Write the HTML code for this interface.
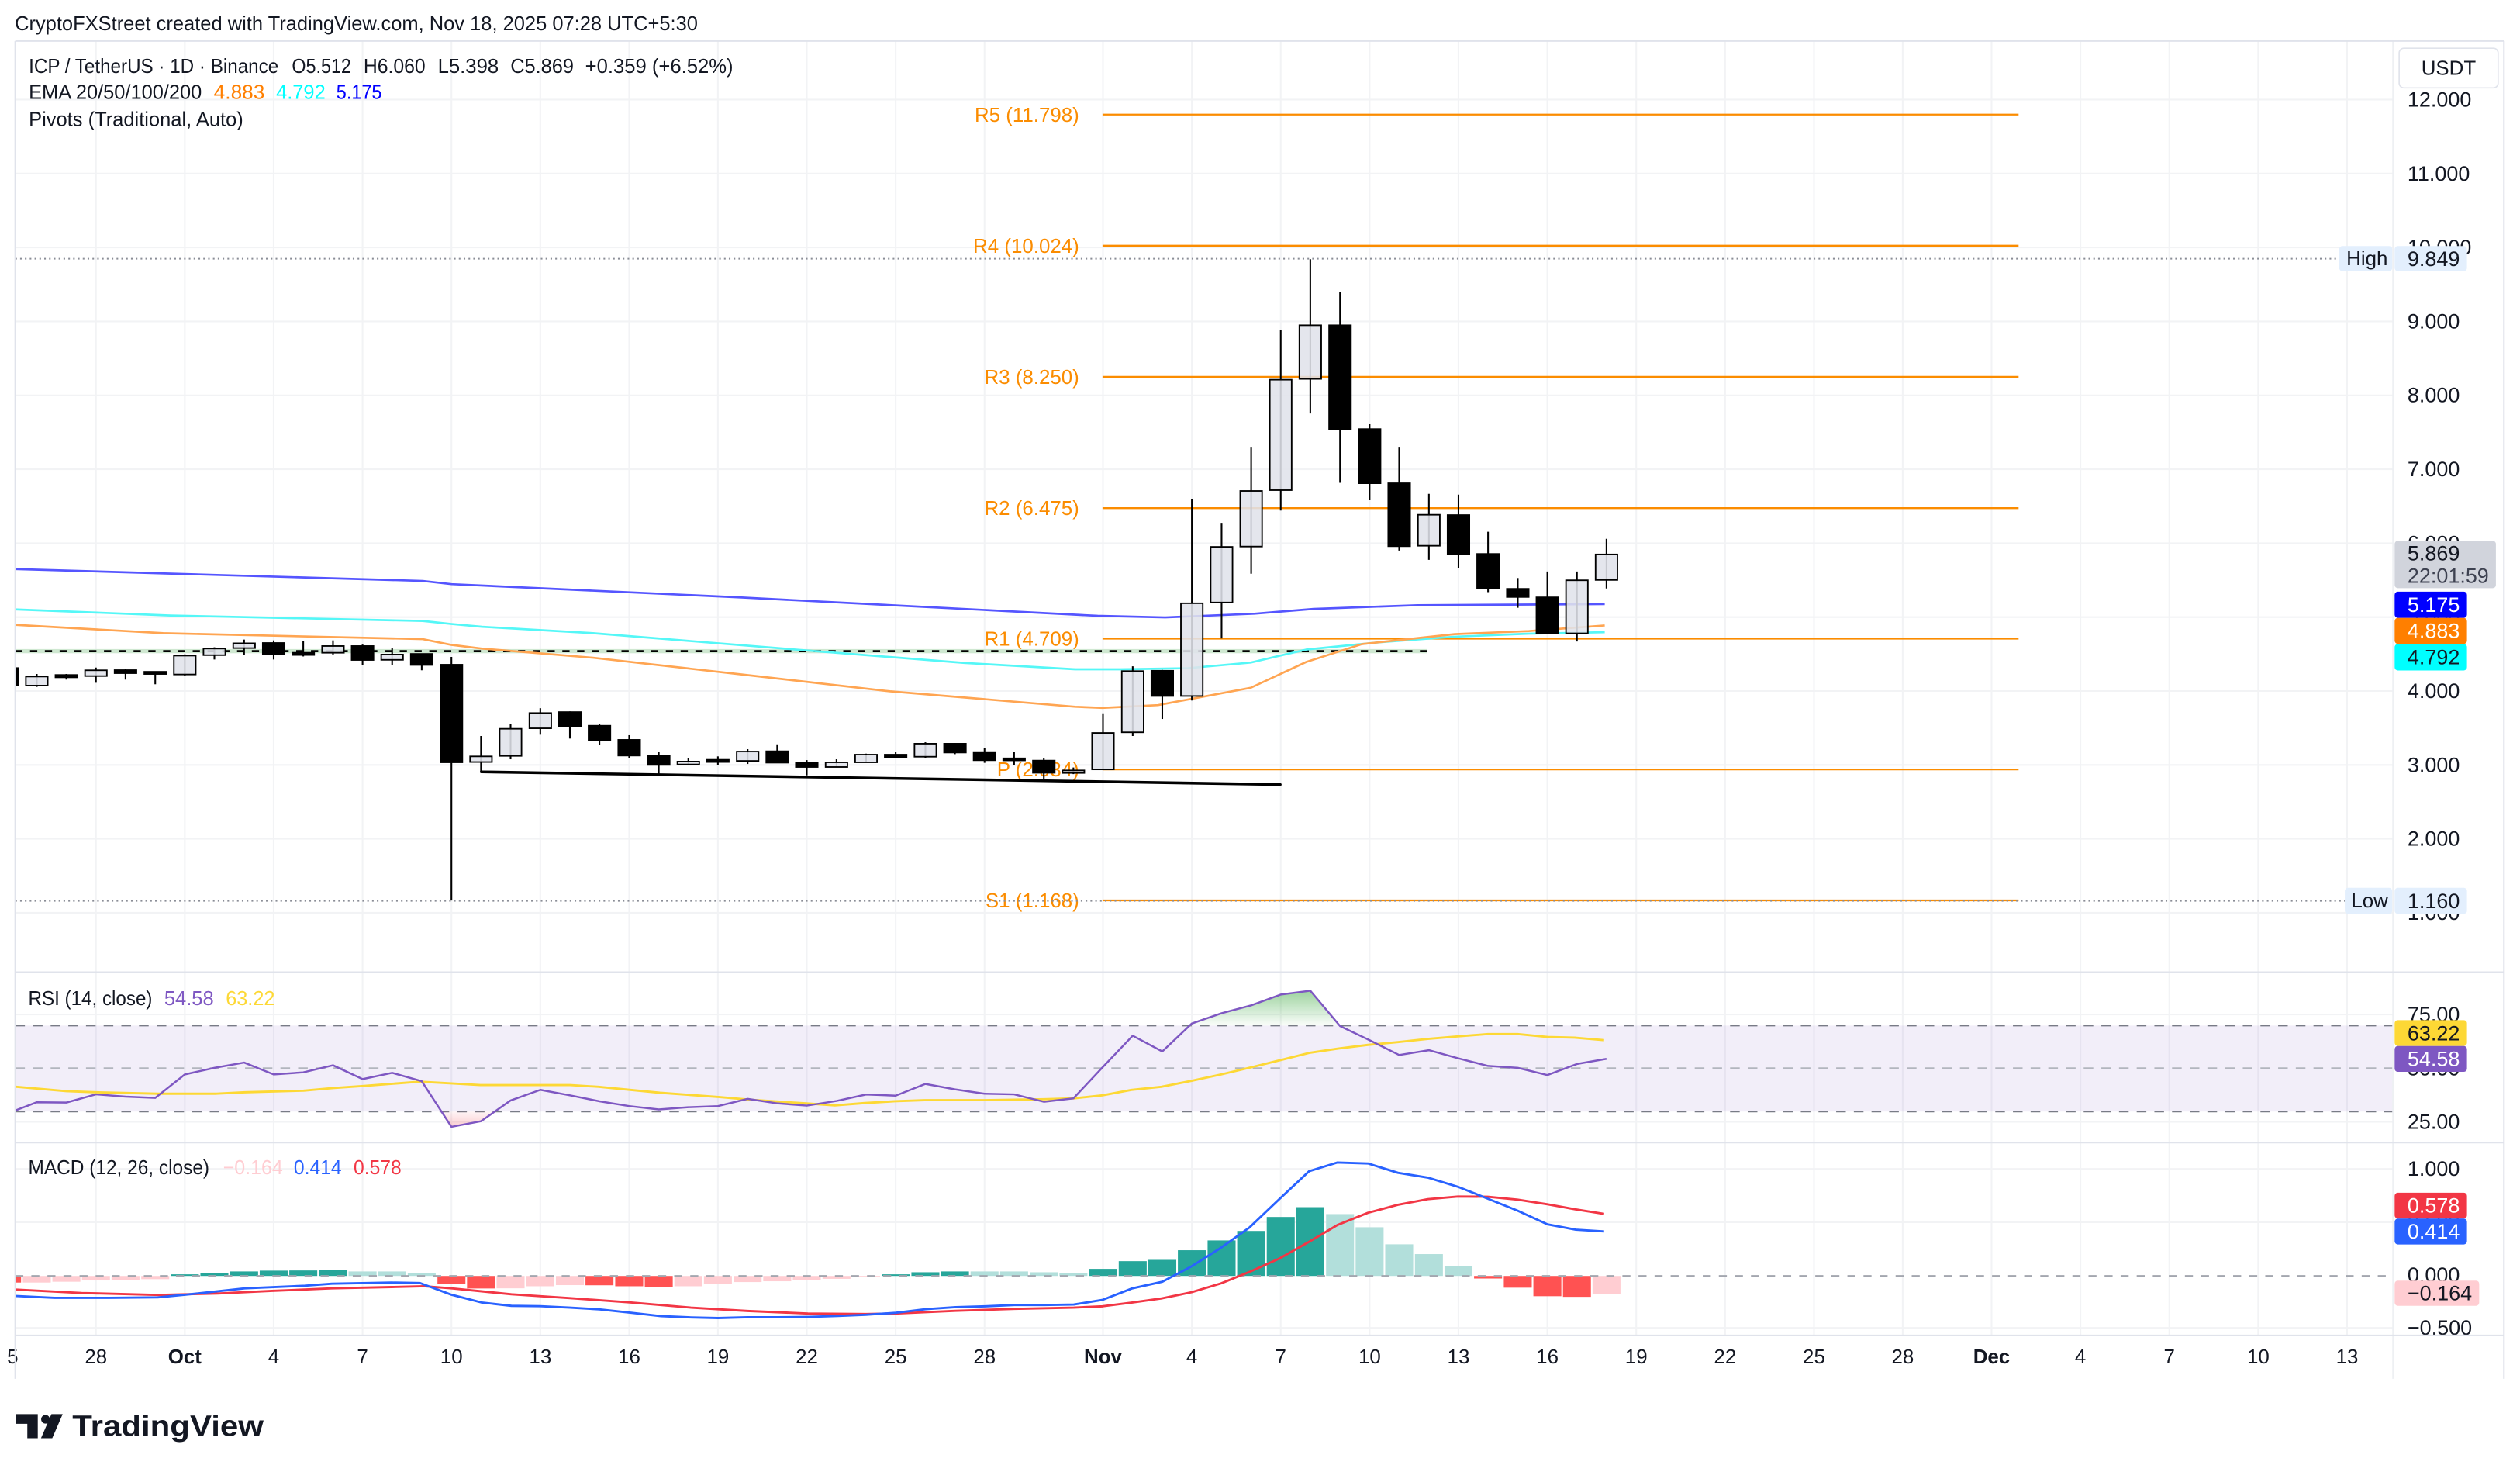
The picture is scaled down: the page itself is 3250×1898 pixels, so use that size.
<!DOCTYPE html>
<html><head><meta charset="utf-8"><style>
html,body{margin:0;padding:0;background:#fff;}
svg{display:block;}
text{font-family:"Liberation Sans",Arial,sans-serif;}
</style></head><body>
<svg xmlns="http://www.w3.org/2000/svg" width="3250" height="1898" viewBox="0 0 1568 916" preserveAspectRatio="none">
<defs>
<clipPath id="cp"><rect x="9.5" y="25.5" width="1479.5" height="579.5"/></clipPath>
<clipPath id="cr"><rect x="9.5" y="605" width="1479.5" height="106"/></clipPath>
<clipPath id="cm"><rect x="9.5" y="711" width="1479.5" height="120"/></clipPath>
<clipPath id="cma"><rect x="1489" y="711" width="79" height="120"/></clipPath>
<clipPath id="cx"><rect x="4" y="831" width="1485" height="27"/></clipPath>
<linearGradient id="gg" x1="0" y1="0" x2="0" y2="1"><stop offset="0" stop-color="#4caf50" stop-opacity="0.55"/><stop offset="1" stop-color="#4caf50" stop-opacity="0.03"/></linearGradient>
<linearGradient id="rg" x1="0" y1="0" x2="0" y2="1"><stop offset="0" stop-color="#f23645" stop-opacity="0.05"/><stop offset="1" stop-color="#f23645" stop-opacity="0.25"/></linearGradient>
</defs>
<rect x="0" y="0" width="1568" height="916" fill="#fff"/>

<!-- header -->
<text x="9.2" y="15" font-size="12.5" fill="#131722" dominant-baseline="central" textLength="425" lengthAdjust="spacingAndGlyphs">CryptoFXStreet created with TradingView.com, Nov 18, 2025 07:28 UTC+5:30</text>

<!-- gridlines -->
<g stroke="#f2f3f5" stroke-width="1">
<line x1="9.5" y1="62" x2="1489" y2="62"/><line x1="9.5" y1="108" x2="1489" y2="108"/><line x1="9.5" y1="154" x2="1489" y2="154"/><line x1="9.5" y1="200" x2="1489" y2="200"/><line x1="9.5" y1="246" x2="1489" y2="246"/><line x1="9.5" y1="292" x2="1489" y2="292"/><line x1="9.5" y1="338" x2="1489" y2="338"/><line x1="9.5" y1="384" x2="1489" y2="384"/><line x1="9.5" y1="430" x2="1489" y2="430"/><line x1="9.5" y1="476" x2="1489" y2="476"/><line x1="9.5" y1="522" x2="1489" y2="522"/><line x1="9.5" y1="568" x2="1489" y2="568"/>
<line x1="9.5" y1="631.3" x2="1489" y2="631.3"/><line x1="9.5" y1="698.1" x2="1489" y2="698.1"/>
<line x1="9.5" y1="727.4" x2="1489" y2="727.4"/><line x1="9.5" y1="760.6" x2="1489" y2="760.6"/><line x1="9.5" y1="826.3" x2="1489" y2="826.3"/>
<line x1="59.7" y1="25.5" x2="59.7" y2="831"/><line x1="115" y1="25.5" x2="115" y2="831"/><line x1="170.3" y1="25.5" x2="170.3" y2="831"/><line x1="225.6" y1="25.5" x2="225.6" y2="831"/><line x1="280.9" y1="25.5" x2="280.9" y2="831"/><line x1="336.2" y1="25.5" x2="336.2" y2="831"/><line x1="391.5" y1="25.5" x2="391.5" y2="831"/><line x1="446.7" y1="25.5" x2="446.7" y2="831"/><line x1="502" y1="25.5" x2="502" y2="831"/><line x1="557.3" y1="25.5" x2="557.3" y2="831"/><line x1="612.6" y1="25.5" x2="612.6" y2="831"/><line x1="686.3" y1="25.5" x2="686.3" y2="831"/><line x1="741.6" y1="25.5" x2="741.6" y2="831"/><line x1="796.9" y1="25.5" x2="796.9" y2="831"/><line x1="852.2" y1="25.5" x2="852.2" y2="831"/><line x1="907.5" y1="25.5" x2="907.5" y2="831"/><line x1="962.8" y1="25.5" x2="962.8" y2="831"/><line x1="1018.1" y1="25.5" x2="1018.1" y2="831"/><line x1="1073.4" y1="25.5" x2="1073.4" y2="831"/><line x1="1128.7" y1="25.5" x2="1128.7" y2="831"/><line x1="1183.9" y1="25.5" x2="1183.9" y2="831"/><line x1="1239.2" y1="25.5" x2="1239.2" y2="831"/><line x1="1294.5" y1="25.5" x2="1294.5" y2="831"/><line x1="1349.8" y1="25.5" x2="1349.8" y2="831"/><line x1="1405.1" y1="25.5" x2="1405.1" y2="831"/><line x1="1460.4" y1="25.5" x2="1460.4" y2="831"/>
</g>

<!-- ================= PRICE PANE ================= -->
<g clip-path="url(#cp)">
<g stroke="#fb8c00" stroke-width="1.1">
<line x1="686" y1="71.3" x2="1256" y2="71.3"/><line x1="686" y1="152.9" x2="1256" y2="152.9"/><line x1="686" y1="234.5" x2="1256" y2="234.5"/><line x1="686" y1="316.2" x2="1256" y2="316.2"/><line x1="686" y1="397.4" x2="1256" y2="397.4"/><line x1="686" y1="478.8" x2="1256" y2="478.8"/><line x1="686" y1="560.3" x2="1256" y2="560.3"/>
</g>
<g font-size="12.5" fill="#fb8c00" text-anchor="end" dominant-baseline="central">
<text x="671.5" y="71.8">R5 (11.798)</text><text x="671.5" y="153.4">R4 (10.024)</text><text x="671.5" y="235">R3 (8.250)</text><text x="671.5" y="316.7">R2 (6.475)</text><text x="671.5" y="397.9">R1 (4.709)</text><text x="671.5" y="479.3">P (2.934)</text><text x="671.5" y="560.8">S1 (1.168)</text>
</g>
<line x1="9.5" y1="161" x2="1455.5" y2="161" stroke="#8a8d96" stroke-width="1" stroke-dasharray="1 2"/>
<line x1="9.5" y1="560.6" x2="1459" y2="560.6" stroke="#8a8d96" stroke-width="1" stroke-dasharray="1 2"/>
<rect x="9.5" y="403.9" width="878.5" height="2.6" fill="#cfe8d1"/>
<line x1="9.5" y1="405.2" x2="888" y2="405.2" stroke="#000" stroke-width="1.3" stroke-dasharray="4.5 4.7"/>
<g fill="none" stroke-width="1.3" stroke-linejoin="round">
<polyline stroke="#5555ff" points="4,353.9 9.2,354.1 263,361.5 281,363.5 461.5,371.8 683,383.2 725,384.2 780.5,381.9 817.4,378.9 882,376.6 998.5,375.9"/>
<polyline stroke="#55f7f7" points="4,378.9 9.2,379.2 106,383 263,386.4 281,388.3 300,390 369,394 507.6,405.2 600,412.5 669,416.5 697.4,416.5 739,415.8 778.2,412.3 812.8,404.2 859,399.6 905.1,396.2 951.2,394.3 998.5,393.4"/>
<polyline stroke="#ffa552" points="4,388.6 9.2,388.8 101.5,394 263,397.7 281,401.3 300,403.6 369,409.3 461.5,419.7 553.8,430.2 669,439.8 686,440.5 720.5,438.8 778.2,428 812.8,411.9 847.4,400.8 905.1,394.6 951.2,392.7 998.5,389.2"/>
</g>
<g stroke="#000" stroke-width="1">
<line x1="4.4" y1="412" x2="4.4" y2="430"/><line x1="22.9" y1="419.4" x2="22.9" y2="427.4"/><line x1="41.3" y1="419.4" x2="41.3" y2="422.9"/><line x1="59.7" y1="415.4" x2="59.7" y2="424.9"/><line x1="78.1" y1="416.3" x2="78.1" y2="422.9"/><line x1="96.6" y1="418.6" x2="96.6" y2="425.8"/><line x1="115" y1="407.2" x2="115" y2="420.5"/><line x1="133.4" y1="402.8" x2="133.4" y2="410.4"/><line x1="151.9" y1="398" x2="151.9" y2="407.7"/><line x1="170.3" y1="398.5" x2="170.3" y2="410.4"/><line x1="188.7" y1="399.1" x2="188.7" y2="408.5"/><line x1="207.2" y1="398.5" x2="207.2" y2="407.3"/><line x1="225.6" y1="401.1" x2="225.6" y2="413.8"/><line x1="244" y1="403.3" x2="244" y2="413.8"/><line x1="262.4" y1="406.9" x2="262.4" y2="417.1"/><line x1="280.9" y1="408.8" x2="280.9" y2="560.4"/><line x1="299.3" y1="458" x2="299.3" y2="480.8"/><line x1="317.7" y1="450.3" x2="317.7" y2="472.5"/><line x1="336.2" y1="440.7" x2="336.2" y2="457.2"/><line x1="354.6" y1="442.7" x2="354.6" y2="459.6"/><line x1="373" y1="450.3" x2="373" y2="463.5"/><line x1="391.5" y1="457.5" x2="391.5" y2="471.7"/><line x1="409.9" y1="468" x2="409.9" y2="481.7"/><line x1="428.3" y1="472" x2="428.3" y2="476"/><line x1="446.7" y1="470.7" x2="446.7" y2="476.3"/><line x1="465.2" y1="466.2" x2="465.2" y2="475.4"/><line x1="483.6" y1="463.2" x2="483.6" y2="474.6"/><line x1="502" y1="473" x2="502" y2="482.5"/><line x1="520.5" y1="472.5" x2="520.5" y2="477.3"/><line x1="538.9" y1="469" x2="538.9" y2="474.4"/><line x1="557.3" y1="467.7" x2="557.3" y2="472"/><line x1="575.8" y1="461.9" x2="575.8" y2="472"/><line x1="594.2" y1="462.4" x2="594.2" y2="469.3"/><line x1="612.6" y1="465.7" x2="612.6" y2="474.7"/><line x1="631" y1="468" x2="631" y2="476"/><line x1="649.5" y1="472" x2="649.5" y2="484.9"/><line x1="667.9" y1="477.6" x2="667.9" y2="481.7"/><line x1="686.3" y1="443.9" x2="686.3" y2="479.2"/><line x1="704.8" y1="414.6" x2="704.8" y2="458"/><line x1="723.2" y1="416.9" x2="723.2" y2="447.4"/><line x1="741.6" y1="310.8" x2="741.6" y2="435.9"/><line x1="760.1" y1="325.8" x2="760.1" y2="397.3"/><line x1="778.5" y1="278.5" x2="778.5" y2="357"/><line x1="796.9" y1="205.4" x2="796.9" y2="317.7"/><line x1="815.3" y1="161.3" x2="815.3" y2="257.3"/><line x1="833.8" y1="181.6" x2="833.8" y2="300.4"/><line x1="852.2" y1="264" x2="852.2" y2="311.3"/><line x1="870.6" y1="278.5" x2="870.6" y2="342.6"/><line x1="889.1" y1="307.3" x2="889.1" y2="348.4"/><line x1="907.5" y1="307.8" x2="907.5" y2="353.5"/><line x1="925.9" y1="330.9" x2="925.9" y2="368.5"/><line x1="944.4" y1="359.7" x2="944.4" y2="378.2"/><line x1="962.8" y1="355.6" x2="962.8" y2="394.1"/><line x1="981.2" y1="355.6" x2="981.2" y2="399.2"/><line x1="999.6" y1="335.3" x2="999.6" y2="366.2"/>
</g>
<g fill="#000" stroke="#000" stroke-width="0.9">
<rect x="-2.4" y="415.7" width="13.6" height="10.9"/>
<rect x="34.5" y="420" width="13.6" height="1.5"/>
<rect x="71.3" y="417" width="13.6" height="1.9"/>
<rect x="89.8" y="418" width="13.6" height="1.4"/>
<rect x="163.5" y="400.1" width="13.6" height="7.2"/>
<rect x="181.9" y="406.2" width="13.6" height="1.4"/>
<rect x="218.8" y="402" width="13.6" height="8.7"/>
<rect x="255.6" y="406.9" width="13.6" height="6.9"/>
<rect x="274.1" y="413.6" width="13.6" height="60.8"/>
<rect x="347.8" y="443.1" width="13.6" height="8.8"/>
<rect x="366.2" y="451.6" width="13.6" height="9"/>
<rect x="384.7" y="460.4" width="13.6" height="9.8"/>
<rect x="403.1" y="470.1" width="13.6" height="5.9"/>
<rect x="439.9" y="472.8" width="13.6" height="1.4"/>
<rect x="476.8" y="467.5" width="13.6" height="7.1"/>
<rect x="495.2" y="474.4" width="13.6" height="2.9"/>
<rect x="550.5" y="469.6" width="13.6" height="1.6"/>
<rect x="587.4" y="462.8" width="13.6" height="5.5"/>
<rect x="605.8" y="468" width="13.6" height="5.1"/>
<rect x="624.2" y="471.9" width="13.6" height="1.3"/>
<rect x="642.7" y="473.3" width="13.6" height="7.6"/>
<rect x="716.4" y="417.4" width="13.6" height="15.7"/>
<rect x="827" y="202.4" width="13.6" height="64.6"/>
<rect x="845.4" y="267" width="13.6" height="33.7"/>
<rect x="863.8" y="300.7" width="13.6" height="39.2"/>
<rect x="900.7" y="320.5" width="13.6" height="24.2"/>
<rect x="919.1" y="344.7" width="13.6" height="21.5"/>
<rect x="937.6" y="366.4" width="13.6" height="5.1"/>
<rect x="956" y="371.7" width="13.6" height="22.4"/>
</g>
<g fill="#e0e3eb" fill-opacity="0.88" stroke="#000" stroke-width="0.9">
<rect x="16.1" y="421" width="13.6" height="5.6"/>
<rect x="52.9" y="417.1" width="13.6" height="3.6"/>
<rect x="108.2" y="408" width="13.6" height="11.7"/>
<rect x="126.6" y="403.6" width="13.6" height="4.1"/>
<rect x="145.1" y="400.3" width="13.6" height="3"/>
<rect x="200.4" y="402" width="13.6" height="4.2"/>
<rect x="237.2" y="407.3" width="13.6" height="3.3"/>
<rect x="292.5" y="470.7" width="13.6" height="3.5"/>
<rect x="310.9" y="453.5" width="13.6" height="16.9"/>
<rect x="329.4" y="443.7" width="13.6" height="9.5"/>
<rect x="421.5" y="473.9" width="13.6" height="1.8"/>
<rect x="458.4" y="467.7" width="13.6" height="5.8"/>
<rect x="513.7" y="474.4" width="13.6" height="2.9"/>
<rect x="532.1" y="469.6" width="13.6" height="4.8"/>
<rect x="569" y="462.8" width="13.6" height="8.1"/>
<rect x="661.1" y="479.4" width="13.6" height="1.6"/>
<rect x="679.5" y="456.1" width="13.6" height="22.7"/>
<rect x="698" y="417.6" width="13.6" height="38.1"/>
<rect x="734.8" y="375.4" width="13.6" height="57.7"/>
<rect x="753.3" y="340.3" width="13.6" height="34.6"/>
<rect x="771.7" y="305.5" width="13.6" height="34.6"/>
<rect x="790.1" y="236.3" width="13.6" height="68.7"/>
<rect x="808.5" y="202.4" width="13.6" height="33.4"/>
<rect x="882.3" y="320.3" width="13.6" height="19.3"/>
<rect x="974.4" y="361.1" width="13.6" height="33"/>
<rect x="992.8" y="345" width="13.6" height="15.9"/>
</g>
<line x1="299.5" y1="480.3" x2="796.6" y2="488.2" stroke="#000" stroke-width="1.7" stroke-linecap="round"/>
</g>

<!-- ================= RSI PANE ================= -->
<g clip-path="url(#cr)">
<rect x="9.5" y="638.2" width="1479.5" height="53.5" fill="#7e57c2" fill-opacity="0.1"/>
<line x1="9.5" y1="638.2" x2="1489" y2="638.2" stroke="#787b86" stroke-width="1" stroke-dasharray="6 5"/>
<line x1="9.5" y1="664.7" x2="1489" y2="664.7" stroke="#b2b5be" stroke-width="1" stroke-dasharray="6 5"/>
<line x1="9.5" y1="691.7" x2="1489" y2="691.7" stroke="#787b86" stroke-width="1" stroke-dasharray="6 5"/>
<polygon points="740.2,638.2 741.6,636.9 760.1,630.5 778.5,625.6 796.9,618.9 815.3,616.5 833.5,638.2" fill="url(#gg)"/>
<polygon points="274.7,691.7 280.9,701.2 299.3,697.7 307.9,691.7" fill="url(#rg)"/>
<polyline fill="none" stroke="#fdd835" stroke-width="1.4" stroke-linejoin="round" points="4.4,676 10.2,676.3 41.3,679.0 59.9,679.7 98.2,680.6 134.7,680.6 152.3,679.7 188.9,678.7 207.2,677.1 225.8,675.8 261.3,673.1 281,674.2 298.9,675.2 336.1,675.2 354.7,675.2 372.4,676.3 410.6,680.0 447.8,682.7 466.5,684.3 502.7,686.7 519.5,687.9 538.1,686.4 556.7,685.3 575.3,684.6 612.6,684.6 649.8,684.0 668.1,683.5 686,681.6 704,678.2 722.6,676.3 741.2,672.6 759.8,668.6 778.4,664.2 796.7,659.7 814.6,655.2 832.6,652.5 851.2,650.2 869.8,648.5 888.4,646.5 907.1,644.9 925.7,643.5 944.3,643.5 962.9,645.3 979.8,645.7 998.1,647.3"/>
<polyline fill="none" stroke="#7e57c2" stroke-width="1.2" stroke-linejoin="round" points="4.4,693 22.9,685.9 41.3,686.1 59.7,681.0 78.1,682.4 96.6,683.2 115.0,668.6 133.4,664.5 151.9,661.2 170.3,668.6 188.7,667.3 207.2,662.9 225.6,671.5 244.0,667.6 262.4,672.8 280.9,701.2 299.3,697.7 317.7,684.8 336.2,678.2 354.6,681.6 373.0,685.3 391.5,688.3 409.9,690.4 428.3,689.0 446.7,688.3 465.2,683.8 483.6,686.6 502.0,688.0 520.5,685.1 538.9,681.1 557.3,681.8 575.8,674.5 594.2,677.9 612.6,680.6 631.0,681.0 649.5,685.6 667.9,683.5 686.3,663.9 704.8,644.5 723.2,654.3 741.6,636.9 760.1,630.5 778.5,625.6 796.9,618.9 815.3,616.5 833.8,638.5 852.2,647.3 870.6,656.5 889.1,653.5 907.5,658.6 925.9,663.3 944.4,664.5 962.8,669.0 981.2,662.1 999.6,658.9"/>
</g>

<!-- ================= MACD PANE ================= -->
<g clip-path="url(#cm)">
<g>
<rect x="-4.3" y="794" width="17.4" height="4.1" fill="#ff5252"/>
<rect x="14.2" y="794" width="17.4" height="4.1" fill="#ffcdd2"/>
<rect x="32.6" y="794" width="17.4" height="3.6" fill="#ffcdd2"/>
<rect x="51" y="794" width="17.4" height="2.8" fill="#ffcdd2"/>
<rect x="69.4" y="794" width="17.4" height="2.5" fill="#ffcdd2"/>
<rect x="87.9" y="794" width="17.4" height="2" fill="#ffcdd2"/>
<rect x="106.3" y="793" width="17.4" height="1" fill="#26a69a"/>
<rect x="124.7" y="792" width="17.4" height="2" fill="#26a69a"/>
<rect x="143.2" y="791.2" width="17.4" height="2.8" fill="#26a69a"/>
<rect x="161.6" y="790.7" width="17.4" height="3.3" fill="#26a69a"/>
<rect x="180" y="790.6" width="17.4" height="3.4" fill="#26a69a"/>
<rect x="198.5" y="790.5" width="17.4" height="3.5" fill="#26a69a"/>
<rect x="216.9" y="791.2" width="17.4" height="2.8" fill="#b2dfdb"/>
<rect x="235.3" y="791.2" width="17.4" height="2.8" fill="#b2dfdb"/>
<rect x="253.7" y="792.2" width="17.4" height="1.8" fill="#b2dfdb"/>
<rect x="272.2" y="794" width="17.4" height="4.9" fill="#ff5252"/>
<rect x="290.6" y="794" width="17.4" height="7.8" fill="#ff5252"/>
<rect x="309" y="794" width="17.4" height="7.7" fill="#ffcdd2"/>
<rect x="327.5" y="794" width="17.4" height="6.4" fill="#ffcdd2"/>
<rect x="345.9" y="794" width="17.4" height="5.7" fill="#ffcdd2"/>
<rect x="364.3" y="794" width="17.4" height="5.8" fill="#ff5252"/>
<rect x="382.8" y="794" width="17.4" height="6.4" fill="#ff5252"/>
<rect x="401.2" y="794" width="17.4" height="6.9" fill="#ff5252"/>
<rect x="419.6" y="794" width="17.4" height="6.4" fill="#ffcdd2"/>
<rect x="438" y="794" width="17.4" height="5.2" fill="#ffcdd2"/>
<rect x="456.5" y="794" width="17.4" height="3.8" fill="#ffcdd2"/>
<rect x="474.9" y="794" width="17.4" height="3.3" fill="#ffcdd2"/>
<rect x="493.3" y="794" width="17.4" height="2.5" fill="#ffcdd2"/>
<rect x="511.8" y="794" width="17.4" height="1.8" fill="#ffcdd2"/>
<rect x="530.2" y="794" width="17.4" height="0.8" fill="#ffcdd2"/>
<rect x="548.6" y="793" width="17.4" height="1" fill="#26a69a"/>
<rect x="567.1" y="791.7" width="17.4" height="2.3" fill="#26a69a"/>
<rect x="585.5" y="791.2" width="17.4" height="2.8" fill="#26a69a"/>
<rect x="603.9" y="791.2" width="17.4" height="2.8" fill="#b2dfdb"/>
<rect x="622.3" y="791.2" width="17.4" height="2.8" fill="#b2dfdb"/>
<rect x="640.8" y="791.7" width="17.4" height="2.3" fill="#b2dfdb"/>
<rect x="659.2" y="792.2" width="17.4" height="1.8" fill="#b2dfdb"/>
<rect x="677.6" y="789.6" width="17.4" height="4.4" fill="#26a69a"/>
<rect x="696.1" y="784.8" width="17.4" height="9.2" fill="#26a69a"/>
<rect x="714.5" y="784" width="17.4" height="10" fill="#26a69a"/>
<rect x="732.9" y="778" width="17.4" height="16" fill="#26a69a"/>
<rect x="751.4" y="771.9" width="17.4" height="22.1" fill="#26a69a"/>
<rect x="769.8" y="766" width="17.4" height="28" fill="#26a69a"/>
<rect x="788.2" y="757.3" width="17.4" height="36.7" fill="#26a69a"/>
<rect x="806.6" y="751.2" width="17.4" height="42.8" fill="#26a69a"/>
<rect x="825.1" y="755.5" width="17.4" height="38.5" fill="#b2dfdb"/>
<rect x="843.5" y="763.7" width="17.4" height="30.3" fill="#b2dfdb"/>
<rect x="861.9" y="774.3" width="17.4" height="19.7" fill="#b2dfdb"/>
<rect x="880.4" y="780.4" width="17.4" height="13.6" fill="#b2dfdb"/>
<rect x="898.8" y="787.8" width="17.4" height="6.2" fill="#b2dfdb"/>
<rect x="917.2" y="794" width="17.4" height="1.6" fill="#ff5252"/>
<rect x="935.7" y="794" width="17.4" height="7.3" fill="#ff5252"/>
<rect x="954.1" y="794" width="17.4" height="12.6" fill="#ff5252"/>
<rect x="972.5" y="794" width="17.4" height="13" fill="#ff5252"/>
<rect x="990.9" y="794" width="17.4" height="11.2" fill="#ffcdd2"/>
</g>
<line x1="9.5" y1="794" x2="1489" y2="794" stroke="#a3a6af" stroke-width="1" stroke-dasharray="5 5"/>
<polyline fill="none" stroke="#f23645" stroke-width="1.4" stroke-linejoin="round" points="4.4,802.3 10.2,802.5 50.8,804.6 98.2,805.8 135.4,804.9 169.3,803.3 206.5,801.7 243.7,800.9 264,800.4 281,801.7 318.2,805.4 354.7,807.8 392.7,810.5 429.9,813.7 465.1,815.8 502.7,817.4 538.8,817.7 557.4,817.4 594.6,815.7 631.2,814.5 668.1,813.7 686,812.9 704.6,810.5 723.2,807.9 741.5,804.1 759.8,798.6 777.4,791.5 796,783.2 814.6,772.7 832.2,762.3 851.2,754.7 869.8,749.7 888.4,746.2 907.1,744.6 925.7,744.7 944.3,746.5 962.9,749.4 980.5,752.6 998.1,755.4"/>
<polyline fill="none" stroke="#2962ff" stroke-width="1.4" stroke-linejoin="round" points="4.4,806.3 10.2,806.5 33.9,807.6 67.7,807.6 98.2,807.3 115.1,805.7 152.3,801.7 189.6,800.1 206.5,798.8 243.7,798.1 261.3,798.4 281,805.7 299.6,810.5 318.2,812.6 336.1,812.8 354.7,813.7 373,814.8 392.7,816.9 411.3,819.0 429.9,819.8 446.8,820.2 465.1,819.7 484,819.7 502.7,819.5 521.3,818.9 538.8,818.2 557.4,816.9 576,814.7 594.6,813.4 612.9,812.9 631.2,812.1 649.8,812.1 668.1,811.8 686,808.9 704.6,801.7 723.2,797.6 741.5,788.0 759.8,776.4 777.4,763.9 796,746.2 814.6,728.8 832.2,723.4 851.2,724.0 869.8,729.8 888.4,732.8 907.1,738.5 925.7,745.9 944.3,753.4 962.9,761.9 980.5,765.2 998.1,766.3"/>
</g>

<!-- ================= LEGENDS ================= -->
<g font-size="12.5" fill="#131722" dominant-baseline="central">
<text x="17.9" y="41.5" textLength="155.4" lengthAdjust="spacingAndGlyphs">ICP / TetherUS · 1D · Binance</text>
<text x="181.6" y="41.5" textLength="36.9" lengthAdjust="spacingAndGlyphs">O5.512</text>
<text x="226.2" y="41.5" textLength="38.5" lengthAdjust="spacingAndGlyphs">H6.060</text>
<text x="272.4" y="41.5" textLength="37.9" lengthAdjust="spacingAndGlyphs">L5.398</text>
<text x="317.6" y="41.5" textLength="39.4" lengthAdjust="spacingAndGlyphs">C5.869</text>
<text x="364.1" y="41.5" textLength="92.1" lengthAdjust="spacingAndGlyphs">+0.359 (+6.52%)</text>
<text x="17.9" y="57.6" textLength="107.7" lengthAdjust="spacingAndGlyphs">EMA 20/50/100/200</text>
<text x="133" y="57.6" textLength="31.7" lengthAdjust="spacingAndGlyphs" fill="#ff7f00">4.883</text>
<text x="171.8" y="57.6" textLength="30.7" lengthAdjust="spacingAndGlyphs" fill="#00ffff">4.792</text>
<text x="209.3" y="57.6" textLength="28.3" lengthAdjust="spacingAndGlyphs" fill="#0000ff">5.175</text>
<text x="17.9" y="74.5" textLength="133.5" lengthAdjust="spacingAndGlyphs">Pivots (Traditional, Auto)</text>
<text x="17.6" y="621.6" textLength="77.2" lengthAdjust="spacingAndGlyphs">RSI (14, close)</text>
<text x="102.2" y="621.6" textLength="30.8" lengthAdjust="spacingAndGlyphs" fill="#7e57c2">54.58</text>
<text x="140.5" y="621.6" textLength="30.5" lengthAdjust="spacingAndGlyphs" fill="#fdd835">63.22</text>
<text x="17.6" y="726.9" textLength="112.7" lengthAdjust="spacingAndGlyphs">MACD (12, 26, close)</text>
<text x="138.8" y="726.9" textLength="37.2" lengthAdjust="spacingAndGlyphs" fill="#ffcdd2">−0.164</text>
<text x="182.8" y="726.9" textLength="29.8" lengthAdjust="spacingAndGlyphs" fill="#2962ff">0.414</text>
<text x="220" y="726.9" textLength="29.8" lengthAdjust="spacingAndGlyphs" fill="#f23645">0.578</text>
</g>

<!-- ================= RIGHT AXIS ================= -->
<line x1="1489" y1="25.5" x2="1489" y2="858" stroke="#eef0f3" stroke-width="1"/>
<g font-size="13" fill="#131722" dominant-baseline="central">
<text x="1498" y="62">12.000</text><text x="1498" y="108">11.000</text><text x="1498" y="154">10.000</text><text x="1498" y="200">9.000</text><text x="1498" y="246">8.000</text><text x="1498" y="292">7.000</text><text x="1498" y="338">6.000</text><text x="1498" y="384">5.000</text><text x="1498" y="430">4.000</text><text x="1498" y="476">3.000</text><text x="1498" y="522">2.000</text><text x="1498" y="568">1.000</text>
<text x="1498" y="631.3">75.00</text><text x="1498" y="664.7">50.00</text><text x="1498" y="698.1">25.00</text>
<g clip-path="url(#cma)"><text x="1498" y="727.4">1.000</text><text x="1498" y="760.6">0.500</text><text x="1498" y="793.4">0.000</text><text x="1498" y="826.3">−0.500</text></g>
</g>
<rect x="1492.8" y="30" width="61.6" height="24.7" rx="3" fill="#fff" stroke="#e0e3eb" stroke-width="0.8"/>
<text x="1523.6" y="42.6" font-size="12.5" fill="#131722" text-anchor="middle" dominant-baseline="central">USDT</text>
<rect x="1455.5" y="153.1" width="33" height="15.7" rx="2" fill="#e3effd"/>
<rect x="1490" y="153.1" width="45" height="15.7" rx="2" fill="#e3effd"/>
<text x="1460" y="161.2" font-size="12.5" fill="#131722" dominant-baseline="central">High</text>
<text x="1498" y="161.2" font-size="13" fill="#131722" dominant-baseline="central">9.849</text>
<rect x="1459" y="552.5" width="29.5" height="16.2" rx="2" fill="#e3effd"/>
<rect x="1490" y="552.5" width="45" height="16.2" rx="2" fill="#e3effd"/>
<text x="1463" y="560.8" font-size="12.5" fill="#131722" dominant-baseline="central">Low</text>
<text x="1498" y="560.8" font-size="13" fill="#131722" dominant-baseline="central">1.160</text>
<rect x="1490" y="336.5" width="63" height="29.5" rx="2" fill="#d1d4dc"/>
<text x="1498" y="344.3" font-size="13" fill="#131722" dominant-baseline="central">5.869</text>
<text x="1498" y="358.3" font-size="13" fill="#3d4150" dominant-baseline="central">22:01:59</text>
<rect x="1490" y="368.2" width="45" height="16.3" rx="2" fill="#0000ff"/>
<text x="1498" y="376.5" font-size="13" fill="#fff" dominant-baseline="central">5.175</text>
<rect x="1490" y="384.5" width="45" height="16.2" rx="2" fill="#ff7f00"/>
<text x="1498" y="392.7" font-size="13" fill="#fff" dominant-baseline="central">4.883</text>
<rect x="1490" y="400.7" width="45" height="16.5" rx="2" fill="#00ffff"/>
<text x="1498" y="409" font-size="13" fill="#131722" dominant-baseline="central">4.792</text>
<rect x="1490" y="634.8" width="45" height="16.1" rx="2" fill="#fdd835"/>
<text x="1498" y="643" font-size="13" fill="#131722" dominant-baseline="central">63.22</text>
<rect x="1490" y="650.9" width="45" height="16.1" rx="2" fill="#7e57c2"/>
<text x="1498" y="659" font-size="13" fill="#fff" dominant-baseline="central">54.58</text>
<rect x="1490" y="742.2" width="45" height="16.1" rx="2" fill="#f23645"/>
<text x="1498" y="750.3" font-size="13" fill="#fff" dominant-baseline="central">0.578</text>
<rect x="1490" y="758.3" width="45" height="16.1" rx="2" fill="#2962ff"/>
<text x="1498" y="766.4" font-size="13" fill="#fff" dominant-baseline="central">0.414</text>
<rect x="1490" y="796.9" width="52.6" height="15.7" rx="2" fill="#ffcdd2"/>
<text x="1498" y="804.8" font-size="13" fill="#131722" dominant-baseline="central">−0.164</text>

<!-- ================= X AXIS ================= -->
<g clip-path="url(#cx)" font-size="12.5" fill="#131722" text-anchor="middle" dominant-baseline="central">
<text x="4.4" y="844.5">25</text><text x="59.7" y="844.5">28</text><text x="115" y="844.5" font-weight="bold">Oct</text><text x="170.3" y="844.5">4</text><text x="225.6" y="844.5">7</text><text x="280.9" y="844.5">10</text><text x="336.2" y="844.5">13</text><text x="391.5" y="844.5">16</text><text x="446.7" y="844.5">19</text><text x="502" y="844.5">22</text><text x="557.3" y="844.5">25</text><text x="612.6" y="844.5">28</text><text x="686.3" y="844.5" font-weight="bold">Nov</text><text x="741.6" y="844.5">4</text><text x="796.9" y="844.5">7</text><text x="852.2" y="844.5">10</text><text x="907.5" y="844.5">13</text><text x="962.8" y="844.5">16</text><text x="1018.1" y="844.5">19</text><text x="1073.4" y="844.5">22</text><text x="1128.7" y="844.5">25</text><text x="1183.9" y="844.5">28</text><text x="1239.2" y="844.5" font-weight="bold">Dec</text><text x="1294.5" y="844.5">4</text><text x="1349.8" y="844.5">7</text><text x="1405.1" y="844.5">10</text><text x="1460.4" y="844.5">13</text>
</g>

<!-- ================= FRAME / SEPARATORS ================= -->
<g stroke="#e0e3eb" stroke-width="1" fill="none">
<line x1="9.5" y1="25.5" x2="1558" y2="25.5"/>
<line x1="9.5" y1="25.5" x2="9.5" y2="858"/>
<line x1="1558" y1="25.5" x2="1558" y2="858"/>
<line x1="9.5" y1="605" x2="1558" y2="605"/>
<line x1="9.5" y1="711" x2="1558" y2="711"/>
<line x1="9.5" y1="831" x2="1558" y2="831"/>
</g>

<!-- ================= LOGO ================= -->
<g fill="#131722">
<path d="M10,880 H23.5 V895 H17 V886 H10 Z"/>
<circle cx="28.3" cy="883.2" r="2.7"/>
<path d="M32,880 H39 L32.5,895 H25.5 Z"/>
</g>
<text x="45" y="887.5" font-size="18.5" font-weight="bold" fill="#131722" dominant-baseline="central" textLength="119" lengthAdjust="spacingAndGlyphs">TradingView</text>
</svg>
</body></html>
